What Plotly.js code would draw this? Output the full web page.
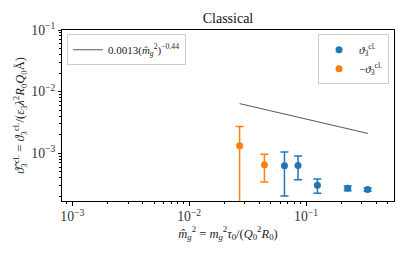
<!DOCTYPE html>
<html><head><meta charset="utf-8">
<script src="https://cdn.plot.ly/plotly-3.0.1.min.js"></script>
<style>html,body{margin:0;padding:0;background:#fff;}#plot{width:407px;height:253px;}</style>
</head><body><div id="plot"></div>
<script>
// positive values (blue)
const posX = [0.0653, 0.0853, 0.125, 0.227, 0.336];
const posY = [6.28e-4, 6.37e-4, 3.04e-4, 2.72e-4, 2.58e-4];
const posErr = [4.25e-4, 2.65e-4, 7.8e-5, 2.4e-5, 1.5e-5];
// negative values (orange, plotted as -v)
const negX = [0.027, 0.044];
const negY = [1.33e-3, 6.52e-4];
const negErr = [1.39e-3, 3.1e-4];
// power-law fit line
const fitX = [0.027, 0.339];
const fitY = [6.4e-3, 2.1e-3];

const serif = "Liberation Serif, DejaVu Serif, serif";
const traces = [
  {x: fitX, y: fitY, mode: 'lines', line: {color: '#444', width: 0.9},
   name: '0.0013(<i>m̂</i><sub><i>g</i></sub><sup>2</sup>)<sup>−0.44</sup>', legend: 'legend'},
  {x: posX, y: posY, mode: 'markers', marker: {color: '#1f77b4', size: 7},
   error_y: {type: 'data', array: posErr, color: '#1f77b4', thickness: 1.5, width: 4},
   name: '<i>ϑ</i><sub>3</sub><sup>cl.</sup>', legend: 'legend2'},
  {x: negX, y: negY, mode: 'markers', marker: {color: '#ff7f0e', size: 7},
   error_y: {type: 'data', array: negErr, color: '#ff7f0e', thickness: 1.5, width: 4},
   name: '−<i>ϑ</i><sub>3</sub><sup>cl.</sup>', legend: 'legend2'}
];
const layout = {
  width: 407, height: 253,
  margin: {l: 62, r: 13, t: 30, b: 52},
  paper_bgcolor: '#fff', plot_bgcolor: '#fff',
  font: {family: serif, size: 11, color: '#222'},
  title: {text: 'Classical', font: {family: serif, size: 14, color: '#111'}, x: 0.5, xanchor: 'center', xref: 'paper', y: 0.93, yanchor: 'middle'},
  showlegend: true,
  xaxis: {type: 'log', range: [-3.088, -0.248], dtick: 1, exponentformat: 'power',
    showgrid: false, zeroline: false, showline: true, mirror: true, linecolor: '#000', linewidth: 1,
    ticks: 'outside', ticklen: 3.5, tickcolor: '#000', tickfont: {family: serif, size: 11, color: '#333'},
    minor: {ticks: 'outside', ticklen: 2, tickcolor: '#000', dtick: 'D1', showgrid: false},
    title: {text: '<i>m̂</i><sub><i>g</i></sub><sup>2</sup> = <i>m</i><sub><i>g</i></sub><sup>2</sup><i>τ</i><sub>0</sub>/(<i>Q</i><sub>0</sub><sup>2</sup><i>R</i><sub>0</sub>)', font: {family: serif, size: 12.5, color: '#222'}, standoff: 3}},
  yaxis: {type: 'log', range: [-3.773, -1], dtick: 1, exponentformat: 'power',
    showgrid: false, zeroline: false, showline: true, mirror: true, linecolor: '#000', linewidth: 1,
    ticks: 'outside', ticklen: 3.5, tickcolor: '#000', tickfont: {family: serif, size: 11, color: '#333'},
    minor: {ticks: 'outside', ticklen: 2, tickcolor: '#000', dtick: 'D1', showgrid: false},
    title: {text: '<i>ϑ̂</i><sub>3</sub><sup>cl.</sup> = <i>ϑ</i><sub>3</sub><sup>cl.</sup>/(<i>ε</i><sub>3</sub><i>λ</i><sup>2</sup><i>R</i><sub>0</sub><i>Q</i><sub>0</sub>Å)', font: {family: serif, size: 12.5, color: '#222'}, standoff: 3}},
  legend: {x: 0.015, y: 0.975, xanchor: 'left', yanchor: 'top', bgcolor: 'rgba(255,255,255,0.8)',
    bordercolor: '#ccc', borderwidth: 1, font: {family: serif, size: 11, color: '#222'}},
  legend2: {x: 0.985, y: 0.975, xanchor: 'right', yanchor: 'top', bgcolor: 'rgba(255,255,255,0.8)',
    bordercolor: '#ccc', borderwidth: 1, font: {family: serif, size: 11, color: '#222'}, itemwidth: 30}
};
Plotly.newPlot('plot', traces, layout, {displayModeBar: false, staticPlot: true});
</script></body></html>
